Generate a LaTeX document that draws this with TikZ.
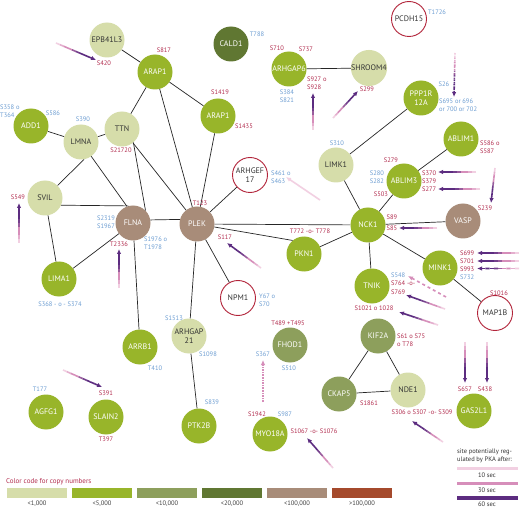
\documentclass[tikz,border=0pt]{standalone}
\usepackage{fontspec}
\setmainfont{PT Sans}
\usetikzlibrary{arrows.meta,calc}
\definecolor{c1k}{RGB}{214,221,170}
\definecolor{c5k}{RGB}{152,181,42}
\definecolor{c10k}{RGB}{141,159,92}
\definecolor{c20k}{RGB}{96,119,50}
\definecolor{c100k}{RGB}{168,140,121}
\definecolor{cmax}{RGB}{165,74,44}
\definecolor{ringred}{RGB}{178,36,58}
\definecolor{sitered}{RGB}{178,44,78}
\definecolor{siteblue}{RGB}{108,157,210}
\definecolor{pkapale}{RGB}{242,208,226}
\definecolor{pkamid}{RGB}{214,142,186}
\definecolor{pkadark}{RGB}{92,44,128}
% gradient arrow: pale tail, dark head
\newcommand{\pkagrad}[3][]{%
  \foreach \c [count=\i from 0] in {pkapale,pkapale!50!pkamid,pkamid,pkamid,pkamid!50!pkadark,pkadark!80!pkamid,pkadark,pkadark,pkadark}{
    \draw[pkaline,color=\c,#1] ($(#2)!{\i/10}!(#3)$) -- ($(#2)!{(\i+1)/10}!(#3)$);
  }
  \draw[pkaline,color=pkadark,#1,-{Latex[length=5pt,width=4.5pt]}] ($(#2)!0.9!(#3)$) -- (#3);
}
\begin{document}
\begin{tikzpicture}[x=1pt,y=-1pt,
  prot/.style={circle,minimum size=35pt,inner sep=0pt,align=center,font=\fontsize{8}{8.6}\selectfont},
  lowc/.style={prot,fill=c1k,text=black!80},
  midc/.style={prot,fill=c5k,text=white},
  tenk/.style={prot,fill=c10k,text=white},
  twentyk/.style={prot,fill=c20k,text=white},
  hundredk/.style={prot,fill=c100k,text=white},
  redring/.style={prot,draw=ringred,line width=0.9pt,fill=white,text=black!80},
  sitelab/.style={font=\fontsize{6.5}{7.9}\selectfont,inner sep=0pt,align=left},
  redsite/.style={sitelab,text=sitered},
  bluesite/.style={sitelab,text=siteblue},
  link/.style={line width=0.7pt,black!85},
  pkaline/.style={line width=1.6pt},
  pkatip/.style={-{Latex[length=5pt,width=4.5pt]}},
]
\path[use as bounding box,fill=white] (0,0) rectangle (520,508);

% proteins
\node[lowc] (epb41l3) at (107,40) {EPB41L3};
\node[midc] (arap1a) at (155,72) {ARAP1};
\node[midc] (add1) at (31,126) {ADD1};
\node[lowc] (lmna) at (81,142) {LMNA};
\node[lowc] (ttn) at (122,129) {TTN};
\node[twentyk] (cald1) at (231,44) {CALD1};
\node[midc] (arhgap6) at (289,69) {ARHGAP6};
\node[midc] (arap1b) at (218,116) {ARAP1};
\node[redring] (pcdh15) at (409,19) {PCDH15};
\node[lowc] (shroom4) at (369,68) {SHROOM4};
\node[midc] (ppp1r12a) at (421,98) {PPP1R\\12A};
\node[midc] (ablim1) at (461,139) {ABLIM1};
\node[lowc] (limk1) at (336,165) {LIMK1};
\node[redring] (arhgef17) at (250,175) {ARHGEF\\17};
\node[hundredk] (plek) at (197,224) {PLEK};
\node[midc] (pkn1) at (304,254) {PKN1};
\node[redring] (npm1) at (238,298) {NPM1};
\node[lowc] (svil) at (45,198) {SVIL};
\node[hundredk] (flna) at (133,223) {FLNA};
\node[midc] (lima1) at (59,279) {LIMA1};
\node[midc] (ablim3) at (404,181) {ABLIM3};
\node[midc] (nck1) at (368,225) {NCK1};
\node[hundredk] (vasp) at (463,221) {VASP};
\node[midc] (mink1) at (440,268) {MINK1};
\node[midc] (tnik) at (372,286) {TNIK};
\node[redring] (map1b) at (495,313) {MAP1B};
\node[midc] (arrb1) at (140,347) {ARRB1};
\node[midc] (agfg1) at (46,412) {AGFG1};
\node[midc] (slain2) at (106,417) {SLAIN2};
\node[lowc] (arhgap21) at (189,336) {ARHGAP\\21};
\node[midc] (ptk2b) at (199,426) {PTK2B};
\node[tenk] (fhod1) at (290,345) {FHOD1};
\node[midc] (myo18a) at (270,434) {MYO18A};
\node[tenk] (ckap5) at (339,394) {CKAP5};
\node[tenk] (kif2a) at (378,336) {KIF2A};
\node[lowc] (nde1) at (408,390) {NDE1};
\node[midc] (gas2l1) at (474,411) {GAS2L1};

% interactions
\begin{scope}[on background layer/.try]
\draw[link] (epb41l3) -- (arap1a);
\draw[link] (arap1a) -- (ttn);
\draw[link] (arap1a) -- (arap1b);
\draw[link] (arap1a) -- (plek);
\draw[link] (add1) -- (lmna);
\draw[link] (lmna) -- (ttn);
\draw[link] (lmna.-80) -- (svil.45);
\draw[link] (lmna) -- (flna.110);
\draw[link] (ttn.-50) -- (flna.45);
\draw[link] (ttn) -- (plek);
\draw[link] (svil.-24) -- (flna.105);
\draw[link] (svil) -- (lima1);
\draw[link] (lima1) -- (flna);
\draw[link] (flna.10) -- (plek.165);
\draw[link] (flna) -- (arrb1);
\draw[link] (arap1b) -- (plek);
\draw[link] (arhgef17) -- (plek);
\draw[link] (plek) -- (nck1);
\draw[link] (plek) -- (pkn1.130);
\draw[link] (pkn1) -- (nck1);
\draw[link] (plek) -- (npm1);
\draw[link] (plek) -- (arhgap21);
\draw[link] (arhgap21) -- (ptk2b);
\draw[link] (arhgap6) -- (shroom4);
\draw[link] (ppp1r12a) -- (limk1);
\draw[link] (limk1) -- (nck1);
\draw[link] (ablim1) -- (ablim3);
\draw[link] (ablim3) -- (nck1);
\draw[link] (nck1) -- (vasp);
\draw[link] (nck1) -- (mink1);
\draw[link] (nck1) -- (tnik);
\draw[link] (mink1) -- (map1b);
\draw[link] (kif2a) -- (ckap5);
\draw[link] (kif2a) -- (nde1);
\draw[link] (ckap5) -- (nde1);
\end{scope}

% sites
\node[redsite] (s420) at (104,63) {S420};
\node[redsite] (s817) at (164,50) {S817};
\node[bluesite,anchor=west] (s358) at (0,111) {S358 o\\T364};
\node[bluesite] (s586) at (53,113) {S586};
\node[bluesite] (s390) at (83,119) {S390};
\node[redsite] (s21720) at (121,150) {S21720};
\node[bluesite] (t788) at (257,34) {T788};
\node[redsite] (s710) at (277,48) {S710};
\node[redsite] (s737) at (306,49) {S737};
\node[redsite,anchor=west] (s927) at (307,83) {S927 o\\S928};
\node[bluesite] (s384) at (287,96) {S384\\S821};
\node[redsite] (s1419) at (220,92) {S1419};
\node[redsite] (s1435) at (244,126) {S1435};
\node[bluesite] (t1726) at (437,12) {T1726};
\node[redsite] (s299) at (367,89) {S299};
\node[bluesite] (s26) at (444,84) {S26};
\node[bluesite,anchor=west] (s695) at (439,105) {S695 or 696\\or 700 or 702};
\node[redsite,anchor=west] (s586b) at (480,147) {S586 o\\S587};
\node[bluesite] (s310) at (337,143) {S310};
\node[bluesite,anchor=west] (s461) at (271,177) {S461 o\\S463};
\node[redsite] (t123) at (200,203) {T123};
\node[redsite] (s117) at (225,237) {S117};
\node[redsite] (t772) at (310,231) {T772 -o- T778};
\node[bluesite,anchor=west] (y67) at (259,300) {Y67 o\\S70};
\node[redsite] (s549) at (18,197) {S549};
\node[bluesite,anchor=east,align=right] (s2319) at (115,222) {S2319\\S1967};
\node[redsite] (t2336) at (119,244) {T2336};
\node[bluesite,anchor=west] (s1976) at (144,243) {S1976 o\\T1978};
\node[bluesite] (s368) at (60,304) {S368 - o - S374};
\node[redsite] (s279) at (391,160) {S279};
\node[bluesite] (s280) at (377,177) {S280\\S282};
\node[redsite] (s503) at (381,194) {S503};
\node[redsite,anchor=west] (s370) at (422,181) {S370\\S379\\S277};
\node[redsite] (s89) at (392,217) {S89};
\node[redsite] (s85) at (392,228) {S85};
\node[redsite] (s239) at (485,208) {S239};
\node[redsite,anchor=west] (s699) at (460,253) {S699};
\node[redsite,anchor=west] (s701) at (460,261) {S701};
\node[redsite,anchor=west] (s993) at (460,269) {S993};
\node[bluesite,anchor=west] (s732) at (460,277) {S732};
\node[bluesite,anchor=west] (s548) at (391,275) {S548};
\node[redsite,anchor=west] (s764) at (391,283) {S764 -o-};
\node[redsite,anchor=west] (s769) at (391,292) {S769};
\node[redsite] (s1021) at (374,308) {S1021 o 1028};
\node[redsite] (s1016) at (499,293) {S1016};
\node[bluesite] (s1513) at (174,318) {S1513};
\node[bluesite] (s1098) at (208,354) {S1098};
\node[bluesite] (t410) at (155,368) {T410};
\node[bluesite] (t177) at (40,389) {T177};
\node[redsite] (s391) at (106,393) {S391};
\node[redsite] (t397) at (106,439) {T397};
\node[bluesite] (s839) at (212,402) {S839};
\node[redsite] (t489) at (288,323) {T489 +T495};
\node[bluesite] (s510) at (289,368) {S510};
\node[bluesite] (s367) at (263,354) {S367};
\node[redsite] (s1942) at (257,414) {S1942};
\node[bluesite] (s987) at (285,414) {S987};
\node[redsite] (s1067) at (314,431) {S1067 -o- S1076};
\node[redsite,anchor=west] (s61) at (397,340) {S61 o S75\\o T78};
\node[redsite] (s1861) at (369,403) {S1861};
\node[redsite] (s306) at (422,412) {S306 o S307 -o- S309};
\node[redsite] (s657) at (465,389) {S657};
\node[redsite] (s438) at (485,389) {S438};

% PKA arrows
\coordinate (a420) at (56,43);   \coordinate (b420) at (96,60);
\coordinate (a928) at (313,130); \coordinate (b928) at (313,93);
\coordinate (a299) at (333,118); \coordinate (b299) at (358,91);
\coordinate (a695) at (455,53);  \coordinate (b695) at (454,97);
\coordinate (a370) at (476,172); \coordinate (b370) at (438,172);
\coordinate (a277) at (480,189); \coordinate (b277) at (438,189);
\coordinate (a239) at (495,168); \coordinate (b239) at (491,203);
\coordinate (a85) at (437,228);  \coordinate (b85) at (399,228);
\coordinate (a699) at (519,253); \coordinate (b699) at (477,253);
\coordinate (a701) at (519,261); \coordinate (b701) at (477,261);
\coordinate (a993) at (519,268.5); \coordinate (b993) at (477,268.5);
\coordinate (a548) at (446,297); \coordinate (b548) at (408,276);
\coordinate (a769) at (445,309); \coordinate (b769) at (406,295);
\coordinate (a1021) at (438,325); \coordinate (b1021) at (399,312);
\coordinate (a657) at (465,342); \coordinate (b657) at (465,383);
\coordinate (a438) at (487,342); \coordinate (b438) at (487,383);
\coordinate (a306) at (443,442); \coordinate (b306) at (412,421);
\coordinate (a1067) at (333,468); \coordinate (b1067) at (307,438);
\coordinate (a367) at (263,402); \coordinate (b367) at (263,360);
\coordinate (a391) at (63,370);  \coordinate (b391) at (102,387);
\coordinate (a549) at (19,243);  \coordinate (b549) at (19,203);
\coordinate (a2336) at (119,288); \coordinate (b2336) at (119,249);
\coordinate (a117) at (261,268); \coordinate (b117) at (227,243);
\coordinate (a461) at (320,200); \coordinate (b461) at (286,177);

\foreach \s in {420,928,299,370,277,239,85,699,701,993,769,1021,657,438,306,1067,391,549,2336,117}{
  \pkagrad{a\s}{b\s}
}
\pkagrad[densely dotted]{a695}{b695}
\draw[pkaline,pkamid,dashed,pkatip] (a548) -- (b548);
\draw[pkaline,pkamid,densely dotted,pkatip] (a367) -- (b367);
\draw[pkaline,pkapale,pkatip] (a461) -- (b461);

% legend: copy numbers
\node[redsite,anchor=west,font=\fontsize{7}{8}\selectfont] (cctitle) at (6,482) {Color code for copy numbers};
\foreach \col/\lab [count=\i from 0] in {c1k/{<1,000},c5k/{<5,000},c10k/{<10,000},c20k/{<20,000},c100k/{<100,000},cmax/{>100,000}}{
  \fill[\col] (7+65*\i,488) rectangle (67+65*\i,498);
  \node[sitelab,text=black!75] (cc\i) at (37+65*\i,504) {\lab};
}

% legend: PKA timing
\node[sitelab,anchor=west,text=black!80] (pkatitle) at (457,456) {site potentially reg-\\ulated by PKA after:};
\fill[pkapale] (457,466.5) rectangle (518,470);
\node[sitelab,text=black!80] (t10) at (487,475.5) {10 sec};
\fill[pkamid] (457,481.5) rectangle (518,485);
\node[sitelab,text=black!80] (t30) at (487,490) {30 sec};
\fill[pkadark] (457,496) rectangle (518,499.5);
\node[sitelab,text=black!80] (t60) at (487,504.5) {60 sec};
\end{tikzpicture}
\end{document}
